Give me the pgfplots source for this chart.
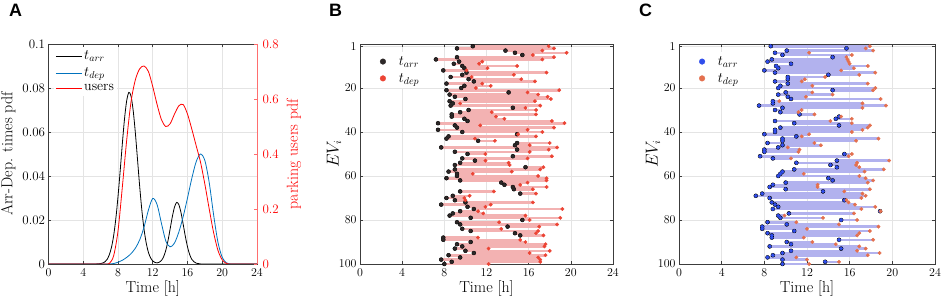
\documentclass[border=0pt]{standalone}
\usepackage{pgfplots}
\pgfplotsset{compat=1.18}
\usepackage{pgfplotstable}
\usepackage{fontspec}
\newfontfamily\panelfont{Liberation Sans}
\definecolor{axgray}{RGB}{60,60,60}
\definecolor{gridc}{RGB}{228,228,228}
\definecolor{mblue}{RGB}{0,114,189}
\definecolor{redax}{RGB}{255,110,110}
\definecolor{arrB}{RGB}{45,40,40}
\definecolor{depB}{RGB}{236,68,52}
\definecolor{barB}{RGB}{243,178,178}
\definecolor{arrC}{RGB}{48,78,236}
\definecolor{depC}{RGB}{228,112,78}
\definecolor{barC}{RGB}{178,178,238}
\newcommand\tickfont{\fontsize{13}{15}\selectfont}
\newcommand\labfont{\fontsize{16}{18}\selectfont}
\newcommand\legfont{\fontsize{14}{16}\selectfont}

\pgfplotstableread{
i arr dep
1 10.7 17.9
2 9.2 18.4
3 13.8 17.3
4 14.7 19.6
5 15.4 16.4
6 9.2 18.4
7 7.2 17.3
8 9.4 11.6
9 8.9 11.3
10 9.7 14.9
11 9.9 12.1
12 7.9 10.1
13 10.1 17.7
14 9.7 14.6
15 8.6 10.6
16 10.3 15.3
17 10.8 16.6
18 8.2 11.6
19 9.9 12.4
20 9.6 11.0
21 8.2 18.9
22 14.1 15.9
23 8.5 16.9
24 9.0 17.8
25 10.0 18.1
26 8.5 16.6
27 8.8 9.5
28 8.6 17.1
29 14.5 15.7
30 10.3 16.7
31 9.5 12.5
32 8.7 16.7
33 8.7 12.9
34 9.9 13.7
35 10.2 18.2
36 7.4 19.4
37 9.0 11.4
38 9.2 18.4
39 7.4 15.9
40 9.7 17.3
41 14.9 15.0
42 8.4 16.7
43 8.2 10.9
44 11.2 12.8
45 14.9 18.0
46 14.7 16.1
47 7.7 18.7
48 14.9 17.9
49 9.0 16.1
50 10.2 11.9
51 14.5 18.2
52 9.7 15.9
53 10.9 11.9
54 9.5 14.1
55 9.0 14.2
56 15.7 17.4
57 9.0 17.1
58 8.4 14.4
59 9.2 10.7
60 9.2 16.9
61 8.2 17.7
62 9.5 17.7
63 13.4 15.9
64 13.7 15.2
65 14.5 17.7
66 14.6 16.4
67 9.5 12.7
68 15.2 16.7
69 8.8 10.4
70 8.2 9.9
71 9.0 10.0
72 10.0 16.4
73 7.7 12.4
74 10.2 11.9
75 10.8 19.2
76 9.5 11.2
77 8.8 11.7
78 8.5 15.7
79 10.5 19.0
80 15.4 16.1
81 9.2 13.2
82 9.5 18.7
83 14.0 17.0
84 9.7 13.4
85 10.5 16.9
86 14.7 16.7
87 15.2 17.4
88 7.9 11.2
89 7.9 15.2
90 10.5 15.7
91 9.2 17.6
92 9.7 17.5
93 9.0 12.2
94 10.0 18.0
95 10.8 16.1
96 8.4 17.6
97 9.5 16.9
98 7.7 17.1
99 8.7 17.1
100 8.0 12.2
}\dataB

\pgfplotstableread{
i arr dep
1 8.6 17.9
2 15.7 17.5
3 10.1 18.2
4 9.0 12.2
5 9.7 16.2
6 14.4 15.7
7 8.7 15.8
8 8.3 15.9
9 10.5 16.0
10 9.1 17.7
11 9.3 16.4
12 8.0 15.2
13 9.0 18.4
14 14.0 16.9
15 10.2 13.7
16 10.2 11.8
17 9.0 11.5
18 10.2 17.7
19 9.5 12.5
20 9.3 18.4
21 14.4 18.2
22 10.0 12.5
23 9.3 14.4
24 10.2 11.9
25 10.5 18.9
26 8.8 9.4
27 8.8 17.2
28 7.5 19.4
29 9.7 17.2
30 9.0 11.5
31 9.5 11.2
32 11.3 12.7
33 15.0 15.2
34 14.7 16.2
35 9.0 14.2
36 10.8 16.2
37 15.0 17.9
38 9.5 17.7
39 9.0 17.2
40 9.0 16.2
41 8.0 12.2
42 11.0 11.5
43 9.7 18.7
44 9.7 16.6
45 8.3 12.7
46 9.7 13.3
47 9.3 10.2
48 8.0 11.3
49 8.0 11.2
50 15.5 16.2
51 7.6 15.9
52 8.8 10.5
53 14.8 19.7
54 11.0 16.7
55 14.2 16.6
56 14.8 16.9
57 10.8 19.2
58 9.7 17.4
59 9.5 11.7
60 9.3 16.9
61 14.0 17.5
62 14.4 18.2
63 10.0 17.7
64 8.8 13.0
65 8.5 13.0
66 10.0 17.9
67 13.5 15.5
68 7.8 17.2
69 7.2 17.5
70 8.5 17.1
71 15.5 15.7
72 8.7 15.9
73 9.0 16.5
74 9.3 18.4
75 8.8 17.1
76 18.85 18.9
77 10.3 16.4
78 9.3 9.9
79 9.5 13.5
80 15.2 16.7
81 8.3 11.0
82 10.1 15.0
83 7.8 18.7
84 7.8 12.0
85 10.8 17.9
86 8.3 16.9
87 8.7 16.7
88 8.7 11.7
89 15.0 18.2
90 10.1 12.5
91 10.5 14.7
92 8.5 16.9
93 15.2 17.5
94 10.5 16.7
95 9.7 18.8
96 8.8 17.7
97 8.3 11.0
98 9.7 12.0
99 13.7 15.0
100 9.7 12.2
}\dataC

\pgfplotsset{
  base/.style={
    scale only axis, height=220bp,
    xmin=0, xmax=24, xtick={0,4,...,24},
    tick align=inside, major tick length=3bp,
    grid=major, grid style={line width=0.5bp, gridc},
    axis line style={axgray, line width=0.5bp},
    tick style={axgray, line width=0.5bp},
    ticklabel style={font=\tickfont},
    xticklabel style={yshift=-1.5bp},
    xlabel={Time [h]},
    xlabel style={font=\labfont, yshift=3bp},
    ylabel style={font=\labfont},
  },
  evaxis/.style={
    base, y dir=reverse, ymin=0, ymax=100,
    ytick={1,20,40,60,80,100}, ylabel={$EV_i$},
    ylabel style={font=\labfont, yshift=-9bp},
    legend style={at={(0.045,0.965)}, anchor=north west, draw=none, fill=white,
      font=\legfont, row sep=1.5bp, inner sep=2bp,
      nodes={inner sep=2.5bp}},
    legend cell align=left,
    legend image code/.code={\path[draw=none, fill=none] (0cm,0cm) -- (0.8cm,0cm);
      \draw[#1, mark size=2.8bp] plot coordinates {(0.33cm,0cm)};},
  },
}

\begin{document}
\begin{tikzpicture}
\useasboundingbox (0,0) rectangle (941bp,307bp);

% ---------------- Panel A ----------------
\begin{axis}[base, at={(48.5bp,43bp)}, anchor=south west, width=208.5bp,
  ymin=0, ymax=0.1, ytick={0,0.02,0.04,0.06,0.08,0.1},
  yticklabels={0,0.02,0.04,0.06,0.08,0.1}, ytick pos=left,
  ylabel={Arr-Dep. times pdf},
  legend style={at={(0.025,0.985)}, anchor=north west, draw=none, fill=white,
    font=\legfont, row sep=2.5bp, inner sep=1.5bp, nodes={inner sep=2bp}},
  legend cell align=left,
  legend image code/.code={\draw[#1] (0bp,0bp) -- (26bp,0bp);},
]
\addplot[black, line width=0.8bp, smooth] coordinates {
(0,0) (2,0) (4,0) (5,0) (5.5,0.00003) (6,0.0002) (6.25,0.00045) (6.5,0.001) (6.75,0.0021)
(7,0.0042) (7.25,0.0076) (7.5,0.0129) (7.75,0.0206) (8,0.0306) (8.25,0.0423) (8.5,0.0547)
(8.75,0.066) (9,0.0742) (9.25,0.078) (9.5,0.0763) (9.75,0.0697) (10,0.0595) (10.25,0.0473)
(10.5,0.0351) (10.75,0.0243) (11,0.0157) (11.25,0.0095) (11.5,0.0053) (11.75,0.0028)
(12,0.0014) (12.25,0.0007) (12.5,0.0005) (12.75,0.0008) (13,0.0016) (13.25,0.0033)
(13.5,0.0062) (13.75,0.0105) (14,0.0159) (14.25,0.0214) (14.5,0.0258) (14.75,0.028)
(15,0.027) (15.25,0.0234) (15.5,0.0181) (15.75,0.0126) (16,0.0078) (16.25,0.0043)
(16.5,0.0021) (16.75,0.001) (17,0.0004) (17.5,0.00004) (18,0) (19,0) (20,0) (22,0) (24,0)};
\addlegendentry{$t_{arr}$}
\addplot[mblue, line width=0.8bp, smooth] coordinates {
(0,0) (2,0) (4,0) (6,0) (7,0) (7.5,0.0002) (8,0.0008) (8.5,0.0017) (9,0.003) (9.5,0.0047)
(10,0.0072) (10.5,0.011) (11,0.0168) (11.5,0.0245) (12,0.0298) (12.5,0.027) (13,0.0185)
(13.5,0.0105) (14,0.0078) (14.5,0.0095) (15,0.0145) (15.5,0.0215) (16,0.03) (16.5,0.039)
(17,0.0465) (17.5,0.05) (18,0.047) (18.5,0.037) (19,0.0225) (19.5,0.01) (20,0.003)
(20.5,0.0005) (21,0) (22,0) (24,0)};
\addlegendentry{$t_{dep}$}
\addlegendimage{red, line width=0.8bp}
\addlegendentry{users}
\end{axis}

\begin{axis}[scale only axis, at={(48.5bp,43bp)}, anchor=south west,
  width=208.5bp, height=220bp,
  xmin=0, xmax=24, axis x line=none,
  axis y line*=right, ymin=0, ymax=0.8,
  ytick={0,0.2,0.4,0.6,0.8}, yticklabels={0,0.2,0.4,0.6,0.8},
  tick align=inside, major tick length=3bp,
  y axis line style={redax, line width=0.7bp},
  ytick style={redax, line width=0.5bp},
  yticklabel style={font=\tickfont, text=red, xshift=2bp},
  ylabel={parking users pdf},
  ylabel style={font=\labfont, text=red, at={(rel axis cs:1.125,0.5)}, anchor=north, rotate=0},
]
\addplot[red, line width=0.8bp, smooth] coordinates {
(0,0) (2,0) (4,0) (6,0) (6.5,0) (7,0.002) (7.5,0.03) (8,0.12) (8.5,0.28) (9,0.45)
(9.5,0.59) (10,0.67) (10.5,0.71) (11,0.72) (11.5,0.70) (12,0.645) (12.5,0.58) (13,0.525)
(13.5,0.50) (14,0.51) (14.5,0.545) (15,0.575) (15.5,0.58) (16,0.545) (16.5,0.49)
(17,0.43) (17.5,0.37) (18,0.29) (18.5,0.20) (19,0.115) (19.5,0.05) (20,0.015)
(20.5,0.002) (21,0) (22,0) (24,0)};
\end{axis}

% ---------------- Panel B ----------------
\begin{axis}[evaxis, at={(360bp,43bp)}, anchor=south west, width=253bp]
\addplot[only marks, mark=none, forget plot,
  error bars/.cd, x dir=plus, x explicit, error mark=none,
  error bar style={line width=2.6bp, draw=barB}]
  table[x=arr, y=i, x error expr=\thisrow{dep}-\thisrow{arr}] {\dataB};
\addplot[only marks, mark=*, mark size=1.7bp, mark options={fill=arrB, draw=arrB}]
  table[x=arr, y=i] {\dataB};
\addlegendentry{$t_{arr}$}
\addplot[only marks, mark=*, mark size=1.7bp, mark options={fill=depB, draw=depB}]
  table[x=dep, y=i] {\dataB};
\addlegendentry{$t_{dep}$}
\end{axis}

% ---------------- Panel C ----------------
\begin{axis}[evaxis, at={(679bp,43bp)}, anchor=south west, width=256bp]
\addplot[only marks, mark=none, forget plot,
  error bars/.cd, x dir=plus, x explicit, error mark=none,
  error bar style={line width=2.6bp, draw=barC}]
  table[x=arr, y=i, x error expr=\thisrow{dep}-\thisrow{arr}] {\dataC};
\addplot[only marks, mark=*, mark size=1.7bp, mark options={fill=arrC, draw=arrC}]
  table[x=arr, y=i] {\dataC};
\addlegendentry{$t_{arr}$}
\addplot[only marks, mark=*, mark size=1.7bp, mark options={fill=depC, draw=depC}]
  table[x=dep, y=i] {\dataC};
\addlegendentry{$t_{dep}$}
\end{axis}

% panel letters
\node[anchor=north west, inner sep=0pt, font=\panelfont\bfseries\fontsize{18}{20}\selectfont] at (9bp,303bp) {A};
\node[anchor=north west, inner sep=0pt, font=\panelfont\bfseries\fontsize{18}{20}\selectfont] at (329bp,303bp) {B};
\node[anchor=north west, inner sep=0pt, font=\panelfont\bfseries\fontsize{18}{20}\selectfont] at (639bp,303bp) {C};
\end{tikzpicture}
\end{document}
